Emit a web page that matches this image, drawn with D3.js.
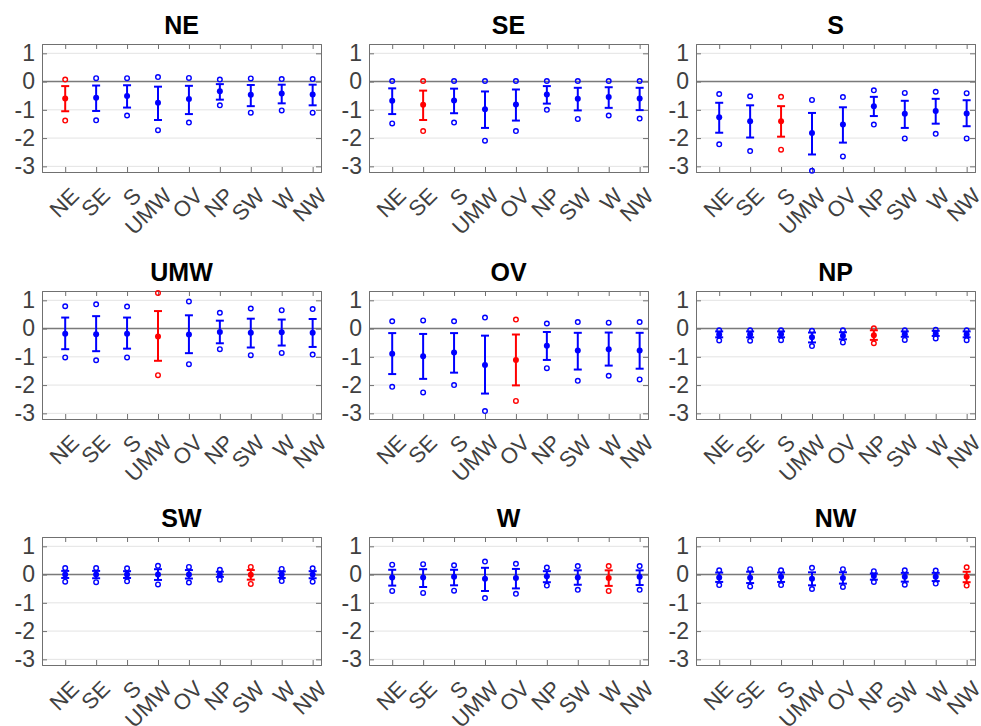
<!DOCTYPE html>
<html>
<head>
<meta charset="utf-8">
<script src="https://cdn.jsdelivr.net/npm/d3@7"></script>
<style>
  body { margin: 0; background: #fff; }
  text { font-family: "Liberation Sans", Arial, sans-serif; }
</style>
</head>
<body>
<svg id="chart" width="981" height="726"></svg>
<script>
// region names (panel titles and x categories)
let regions = ["NE", "SE", "S", "UMW", "OV", "NP", "SW", "W", "NW"];
let yTicks = [-3, -2, -1, 0, 1];

// one row per panel, one value per category
let meanVals = [
  [-0.60, -0.57, -0.51, -0.75, -0.62, -0.34, -0.47, -0.42, -0.46],
  [-0.68, -0.82, -0.67, -0.98, -0.81, -0.46, -0.61, -0.55, -0.60],
  [-1.26, -1.40, -1.40, -1.82, -1.52, -0.87, -1.14, -1.04, -1.13],
  [-0.18, -0.20, -0.18, -0.28, -0.21, -0.12, -0.15, -0.13, -0.15],
  [-0.89, -0.98, -0.85, -1.29, -1.11, -0.61, -0.78, -0.73, -0.78],
  [-0.21, -0.21, -0.20, -0.31, -0.25, -0.24, -0.20, -0.18, -0.21],
  [0.00, 0.00, 0.00, 0.00, 0.00, 0.00, -0.01, 0.00, 0.00],
  [-0.10, -0.10, -0.08, -0.15, -0.12, -0.06, -0.10, -0.12, -0.08],
  [-0.10, -0.11, -0.08, -0.15, -0.12, -0.05, -0.08, -0.08, -0.08]
];
let barHigh = [
  [-0.16, -0.14, -0.13, -0.18, -0.15, -0.09, -0.12, -0.11, -0.11],
  [-0.24, -0.32, -0.25, -0.35, -0.28, -0.16, -0.22, -0.20, -0.22],
  [-0.75, -0.84, -0.87, -1.11, -0.91, -0.54, -0.68, -0.61, -0.66],
  [0.39, 0.44, 0.39, 0.62, 0.47, 0.28, 0.35, 0.32, 0.34],
  [-0.16, -0.19, -0.16, -0.25, -0.21, -0.12, -0.15, -0.14, -0.15],
  [-0.10, -0.10, -0.10, -0.14, -0.13, -0.06, -0.10, -0.08, -0.10],
  [0.13, 0.13, 0.12, 0.19, 0.16, 0.10, 0.16, 0.11, 0.12],
  [0.17, 0.19, 0.17, 0.24, 0.20, 0.12, 0.15, 0.15, 0.15],
  [0.07, 0.10, 0.07, 0.08, 0.08, 0.04, 0.06, 0.06, 0.10]
];
let barLow = [
  [-1.05, -1.04, -0.92, -1.36, -1.15, -0.64, -0.87, -0.77, -0.84],
  [-1.15, -1.36, -1.12, -1.64, -1.38, -0.78, -1.02, -0.93, -1.01],
  [-1.81, -1.98, -1.95, -2.58, -2.16, -1.22, -1.64, -1.49, -1.58],
  [-0.73, -0.80, -0.71, -1.14, -0.87, -0.52, -0.67, -0.60, -0.65],
  [-1.61, -1.78, -1.56, -2.30, -2.01, -1.11, -1.45, -1.31, -1.42],
  [-0.31, -0.31, -0.31, -0.49, -0.38, -0.40, -0.29, -0.26, -0.31],
  [-0.12, -0.13, -0.12, -0.19, -0.14, -0.08, -0.18, -0.12, -0.13],
  [-0.39, -0.44, -0.38, -0.58, -0.49, -0.27, -0.36, -0.40, -0.37],
  [-0.26, -0.30, -0.26, -0.38, -0.32, -0.18, -0.25, -0.23, -0.27]
];
let circHigh = [
  [0.07, 0.12, 0.12, 0.16, 0.13, 0.07, 0.11, 0.09, 0.09],
  [0.02, 0.02, 0.02, 0.02, 0.02, 0.02, 0.02, 0.02, 0.02],
  [-0.44, -0.52, -0.54, -0.65, -0.55, -0.31, -0.40, -0.36, -0.41],
  [0.79, 0.86, 0.78, 1.26, 0.96, 0.56, 0.71, 0.65, 0.69],
  [0.26, 0.29, 0.26, 0.39, 0.32, 0.18, 0.23, 0.21, 0.23],
  [-0.06, -0.06, -0.06, -0.08, -0.06, 0.01, -0.06, -0.04, -0.06],
  [0.23, 0.23, 0.22, 0.31, 0.27, 0.17, 0.27, 0.20, 0.22],
  [0.35, 0.37, 0.33, 0.46, 0.38, 0.25, 0.30, 0.30, 0.30],
  [0.15, 0.19, 0.15, 0.24, 0.19, 0.12, 0.15, 0.14, 0.26]
];
let circLow = [
  [-1.38, -1.37, -1.20, -1.72, -1.45, -0.84, -1.10, -1.02, -1.10],
  [-1.48, -1.75, -1.45, -2.09, -1.75, -1.00, -1.32, -1.20, -1.31],
  [-2.22, -2.46, -2.41, -3.16, -2.65, -1.52, -2.01, -1.85, -2.01],
  [-1.02, -1.12, -1.02, -1.65, -1.26, -0.73, -0.94, -0.86, -0.92],
  [-2.06, -2.26, -2.00, -2.92, -2.56, -1.40, -1.85, -1.67, -1.80],
  [-0.42, -0.43, -0.41, -0.62, -0.49, -0.52, -0.40, -0.35, -0.41],
  [-0.25, -0.27, -0.24, -0.35, -0.28, -0.18, -0.33, -0.23, -0.25],
  [-0.58, -0.65, -0.57, -0.83, -0.68, -0.39, -0.54, -0.58, -0.54],
  [-0.37, -0.42, -0.37, -0.51, -0.44, -0.26, -0.36, -0.32, -0.39]
];

let colLeft = [42, 369, 696];
let rowTop = [44, 291, 537];
let width = 279;
let height = 128;

let svg = d3.select("#chart");

let xScale = d3.scaleLinear().domain([0.25, 9.27]).range([0, width]);
let yScale = d3.scaleLinear().domain([-3.2, 1.33]).range([height, 0]);
let idx = d3.range(1, 10);

regions.forEach(function (title, p) {
  let g = svg.append("g")
    .attr("transform", "translate(" + colLeft[p % 3] + "," + rowTop[Math.floor(p / 3)] + ")");

  // grid lines
  g.selectAll(".grid")
    .data(yTicks)
    .enter()
    .append("line")
    .attr("x1", 0).attr("x2", width)
    .attr("y1", d => yScale(d)).attr("y2", d => yScale(d))
    .attr("stroke", "#e3e3e3")
    .attr("stroke-width", 1);

  // zero line
  g.append("line")
    .attr("x1", 0).attr("x2", width)
    .attr("y1", yScale(0)).attr("y2", yScale(0))
    .attr("stroke", "#7a7a7a")
    .attr("stroke-width", 1.5);

  // axes (ticks pointing inwards)
  let yAxis = d3.axisLeft(yScale).tickValues(yTicks).tickSize(-5).tickPadding(7)
    .tickFormat(d => String(d));
  let yAxisR = d3.axisRight(yScale).tickValues(yTicks).tickSize(-5).tickFormat("");
  let xAxisT = d3.axisTop(xScale).tickValues(idx).tickSize(-5).tickFormat("");
  let xAxisB = d3.axisBottom(xScale).tickValues(idx).tickSize(-5).tickFormat("");

  g.append("g").call(yAxis);
  g.append("g").attr("transform", "translate(" + width + ",0)").call(yAxisR);
  g.append("g").call(xAxisT);
  g.append("g").attr("transform", "translate(0," + height + ")").call(xAxisB);

  g.selectAll(".domain").attr("stroke", "#707070");
  g.selectAll(".tick line").attr("stroke", "#707070");
  g.selectAll(".tick text")
    .attr("fill", "#404040")
    .style("font-size", "23px");

  // rotated category labels
  g.selectAll(".xlab")
    .data(regions)
    .enter()
    .append("text")
    .attr("transform", (d, i) => "translate(" + (xScale(i + 1) + 4) + "," + (height + 14) + ") rotate(-45)")
    .attr("dy", "0.72em")
    .style("text-anchor", "end")
    .style("font-size", "22px")
    .attr("fill", "#404040")
    .text(d => d);

  // title
  g.append("text")
    .attr("x", width / 2)
    .attr("y", -10)
    .style("text-anchor", "middle")
    .style("font-size", "25px")
    .style("font-weight", "bold")
    .attr("fill", "#000")
    .text(title);

  let rows = regions.map(function (r, i) {
    return {
      i: i + 1,
      mean: meanVals[p][i],
      lo: barLow[p][i],
      hi: barHigh[p][i],
      cLo: circLow[p][i],
      cHi: circHigh[p][i],
      color: i === p ? "#ff0000" : "#0000ff"
    };
  });

  let marks = g.selectAll(".mark")
    .data(rows)
    .enter()
    .append("g");

  marks.append("line")
    .attr("x1", d => xScale(d.i)).attr("x2", d => xScale(d.i))
    .attr("y1", d => yScale(d.hi)).attr("y2", d => yScale(d.lo))
    .attr("stroke", d => d.color)
    .attr("stroke-width", 2);

  [ "hi", "lo" ].forEach(function (k) {
    marks.append("line")
      .attr("x1", d => xScale(d.i) - 4).attr("x2", d => xScale(d.i) + 4)
      .attr("y1", d => yScale(d[k])).attr("y2", d => yScale(d[k]))
      .attr("stroke", d => d.color)
      .attr("stroke-width", 2);
  });

  marks.append("circle")
    .attr("cx", d => xScale(d.i))
    .attr("cy", d => yScale(d.mean))
    .attr("r", 3)
    .attr("fill", d => d.color);

  [ "cHi", "cLo" ].forEach(function (k) {
    marks.append("circle")
      .attr("cx", d => xScale(d.i))
      .attr("cy", d => yScale(d[k]))
      .attr("r", 2.3)
      .attr("fill", "none")
      .attr("stroke", d => d.color)
      .attr("stroke-width", 1.4);
  });
});
</script>
</body>
</html>
